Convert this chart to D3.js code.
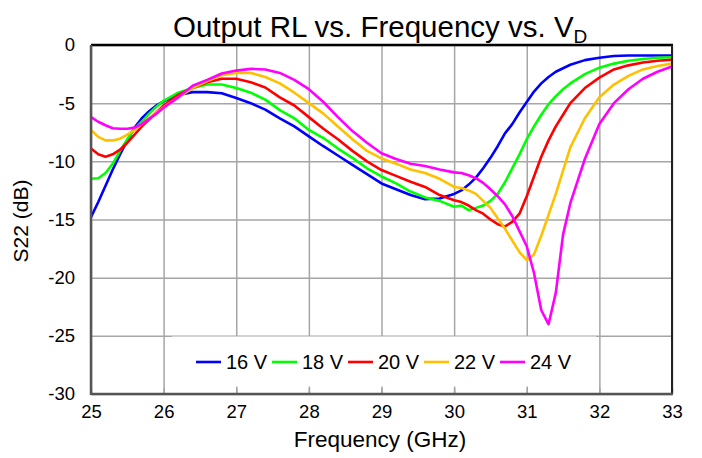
<!DOCTYPE html>
<html><head><meta charset="utf-8">
<script src="https://cdn.jsdelivr.net/npm/d3@7"></script>
<style>
html,body{margin:0;padding:0;background:#fff;}
svg{display:block;font-family:"Liberation Sans",Arial,sans-serif;}
</style></head>
<body><svg id="chart" width="702" height="458"></svg>
<script>
const freq = [25.0,25.1,25.2,25.3,25.4,25.5,25.6,25.7,25.8,25.9,26.0,
  26.2,26.4,26.6,26.8,27.0,27.2,27.4,27.6,27.8,28.0,28.2,28.4,28.6,28.8,29.0,29.2,29.4,29.6,29.8,
  30.0,30.1,30.2,30.3,30.4,30.5,30.6,30.7,30.8,30.9,31.0,31.1,31.2,31.3,31.4,31.5,31.6,
  31.8,32.0,32.2,32.4,32.6,32.8,33.0];
const s16V = [-14.8,-13.5,-12.1,-10.7,-9.4,-8.2,-7.1,-6.3,-5.7,-5.2,-4.85,
  -4.3,-4.05,-4.05,-4.15,-4.55,-5.0,-5.55,-6.3,-7.0,-7.85,-8.7,-9.5,-10.3,-11.1,-11.9,-12.4,-12.9,-13.25,-13.2,
  -12.8,-12.5,-12.0,-11.4,-10.6,-9.7,-8.7,-7.6,-6.8,-5.8,-4.9,-4.0,-3.3,-2.75,-2.3,-2.0,-1.7,
  -1.3,-1.1,-0.95,-0.9,-0.9,-0.9,-0.9];
const s18V = [-11.5,-11.45,-11.0,-10.2,-9.1,-8.1,-7.2,-6.6,-5.9,-5.3,-4.8,
  -4.1,-3.7,-3.4,-3.4,-3.7,-4.1,-4.7,-5.6,-6.3,-7.3,-8.0,-8.9,-9.7,-10.6,-11.3,-11.9,-12.6,-13.1,-13.4,
  -13.9,-13.8,-14.2,-14.0,-13.8,-13.4,-12.8,-11.8,-10.6,-9.4,-8.1,-7.0,-6.0,-5.1,-4.4,-3.8,-3.3,
  -2.5,-1.95,-1.6,-1.35,-1.2,-1.1,-1.05];
const s20V = [-8.9,-9.4,-9.6,-9.4,-9.0,-8.4,-7.7,-7.0,-6.4,-5.8,-5.2,
  -4.3,-3.7,-3.2,-2.9,-2.9,-3.2,-3.65,-4.5,-5.2,-6.2,-7.2,-8.1,-9.1,-10.0,-10.75,-11.25,-11.75,-12.2,-12.9,
  -13.35,-13.5,-13.8,-14.2,-14.5,-15.0,-15.4,-15.6,-15.2,-14.5,-13.0,-11.3,-9.6,-8.2,-7.0,-6.0,-5.0,
  -3.7,-2.8,-2.1,-1.75,-1.5,-1.35,-1.27];
const s22V = [-7.3,-7.9,-8.2,-8.2,-8.05,-7.7,-7.3,-6.8,-6.3,-5.8,-5.35,
  -4.5,-3.7,-3.1,-2.6,-2.4,-2.4,-2.75,-3.3,-4.1,-5.0,-5.9,-7.0,-8.1,-9.1,-9.75,-10.2,-10.7,-11.0,-11.5,
  -12.2,-12.3,-12.5,-12.8,-13.4,-14.0,-14.9,-15.8,-16.8,-17.8,-18.5,-18.0,-16.4,-14.6,-12.8,-10.8,-8.8,
  -6.3,-4.5,-3.4,-2.65,-2.1,-1.8,-1.6];
const s24V = [-6.2,-6.6,-6.9,-7.15,-7.2,-7.2,-7.1,-6.8,-6.35,-5.9,-5.4,
  -4.5,-3.5,-3.0,-2.45,-2.2,-2.05,-2.1,-2.4,-3.0,-3.8,-4.9,-6.2,-7.4,-8.4,-9.3,-9.8,-10.2,-10.4,-10.7,
  -10.95,-11.0,-11.2,-11.45,-11.85,-12.4,-13.0,-13.7,-14.7,-16.0,-17.3,-19.6,-22.8,-24.0,-21.3,-16.3,-13.6,
  -9.8,-6.8,-5.0,-3.8,-2.9,-2.3,-1.85];
const seriesNames = ["16 V","18 V","20 V","22 V","24 V"];
const seriesValues = [s16V,s18V,s20V,s22V,s24V];
const seriesColors = ["#0000ff","#00ff00","#ff0000","#ffc000","#ff00ff"];
const xTicks = [25,26,27,28,29,30,31,32,33];
const yTicks = [0,-5,-10,-15,-20,-25,-30];

const svg = d3.select("#chart");
const L=91, R=672, T=45, B=394;
const x = d3.scaleLinear().domain([25,33]).range([L,R]);
const y = d3.scaleLinear().domain([-30,0]).range([B,T]);

// gridlines
svg.append("g").attr("transform",`translate(0,${B})`)
  .call(d3.axisBottom(x).tickValues(xTicks).tickSize(-(B-T)).tickFormat(""))
  .call(g=>g.select(".domain").remove())
  .call(g=>g.selectAll("line").attr("stroke","#a6a6a6").attr("stroke-width",1.5));
svg.append("g").attr("transform",`translate(${L},0)`)
  .call(d3.axisLeft(y).tickValues(yTicks).tickSize(-(R-L)).tickFormat(""))
  .call(g=>g.select(".domain").remove())
  .call(g=>g.selectAll("line").attr("stroke","#a6a6a6").attr("stroke-width",1.5));

// lines
const line = d3.line().x((d,i)=>x(freq[i])).y(d=>y(d));
svg.append("g").selectAll("path").data(seriesValues).join("path")
  .attr("d",line).attr("fill","none")
  .attr("stroke",(d,i)=>seriesColors[i]).attr("stroke-width",2.6)
  .attr("stroke-linejoin","round");

// legend box
svg.append("rect").attr("x",172).attr("y",336.5).attr("width",424).attr("height",50).attr("fill","#fff");
const leg = svg.append("g");
seriesNames.forEach((n,i)=>{
  const lx = 196 + i*76;
  leg.append("line").attr("x1",lx).attr("x2",lx+25).attr("y1",362).attr("y2",362)
    .attr("stroke",seriesColors[i]).attr("stroke-width",2.6);
  leg.append("text").attr("x",lx+30).attr("y",362).attr("dy","0.36em")
    .attr("font-size",20).attr("fill","#000").text(n);
});

// inner ticks on bottom
svg.append("g").attr("transform",`translate(0,${B})`)
  .call(d3.axisBottom(x).tickValues(xTicks).tickSize(-6).tickFormat(""))
  .call(g=>g.select(".domain").remove())
  .call(g=>g.selectAll("line").attr("stroke","#a6a6a6").attr("stroke-width",1.5));

// frame
svg.append("line").attr("x1",L).attr("x2",R+1).attr("y1",T).attr("y2",T).attr("stroke","#000").attr("stroke-width",2.5);
svg.append("line").attr("x1",R).attr("x2",R).attr("y1",T).attr("y2",B).attr("stroke","#222").attr("stroke-width",2);
svg.append("line").attr("x1",L).attr("x2",L).attr("y1",T).attr("y2",B+1).attr("stroke","#555").attr("stroke-width",2.5);
svg.append("line").attr("x1",L).attr("x2",R+1).attr("y1",B).attr("y2",B).attr("stroke","#555").attr("stroke-width",2.5);

// tick labels
svg.append("g").attr("transform",`translate(${L},0)`)
  .call(d3.axisLeft(y).tickValues(yTicks).tickSize(0).tickPadding(16).tickFormat(d=>d))
  .call(g=>g.select(".domain").remove())
  .call(g=>g.selectAll("text").attr("font-size",18.5).attr("fill","#000").attr("font-family","'Liberation Sans',Arial,sans-serif"));
svg.append("g").attr("transform",`translate(0,${B})`)
  .call(d3.axisBottom(x).tickValues(xTicks).tickSize(0).tickPadding(11).tickFormat(d=>d))
  .call(g=>g.select(".domain").remove())
  .call(g=>g.selectAll("text").attr("font-size",18.5).attr("fill","#000").attr("font-family","'Liberation Sans',Arial,sans-serif"));

// titles
svg.append("text").attr("x",380).attr("y",447).attr("text-anchor","middle")
  .attr("font-size",22.5).text("Frequency (GHz)");
svg.append("text").attr("transform","translate(28,221) rotate(-90)").attr("text-anchor","middle")
  .attr("font-size",21).text("S22 (dB)");
const title = svg.append("text").attr("x",173).attr("y",37).attr("font-size",29.5);
title.append("tspan").text("Output RL vs. Frequency vs. V");
title.append("tspan").attr("font-size",19).attr("dy",6).text("D");
</script></body></html>
